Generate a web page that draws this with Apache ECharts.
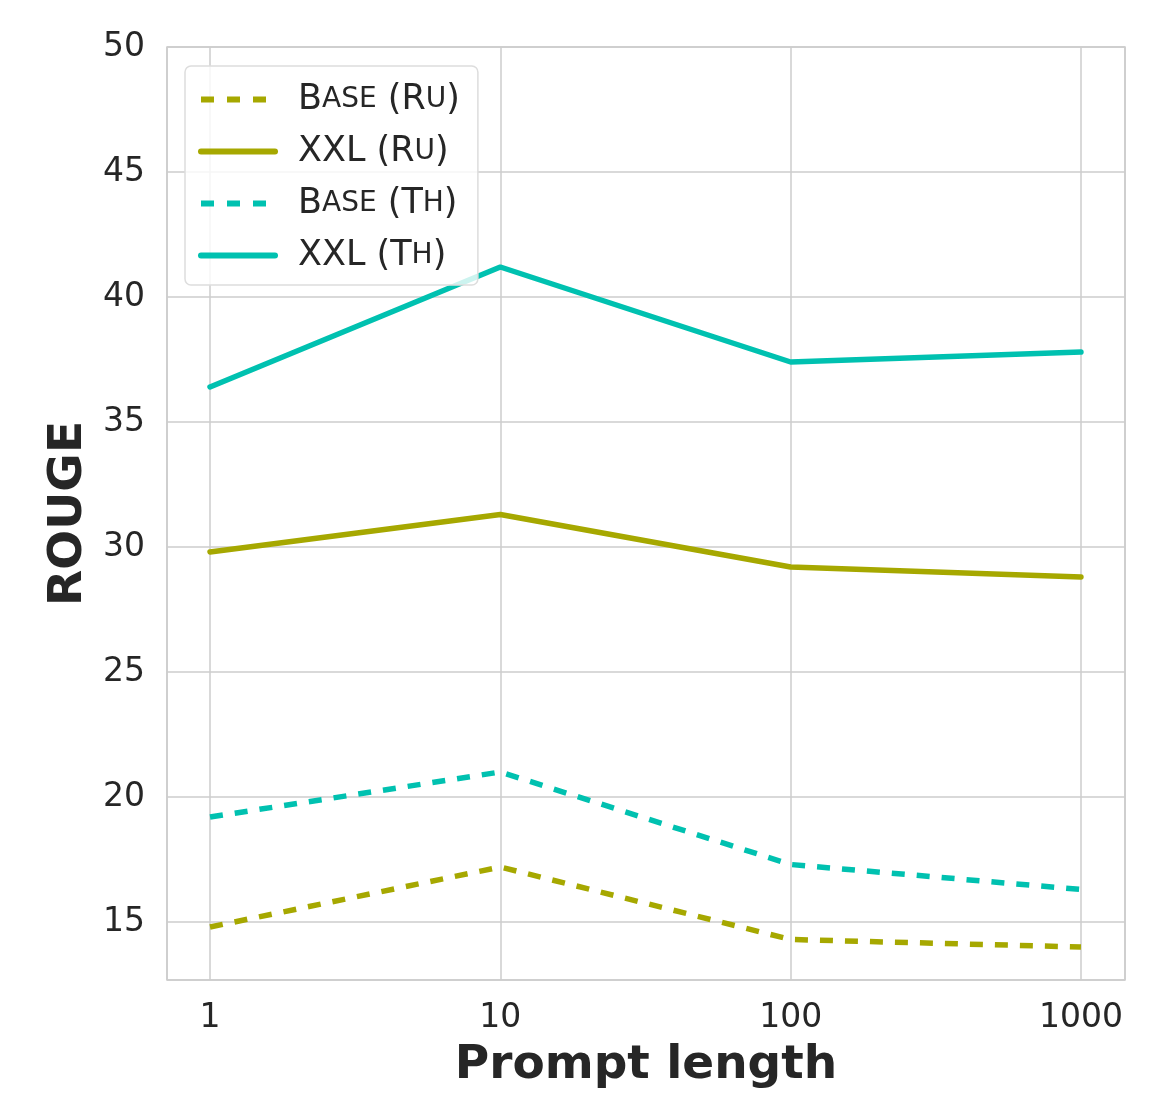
<!DOCTYPE html>
<html><head><meta charset="utf-8">
<script src="https://cdn.jsdelivr.net/npm/echarts@6/dist/echarts.min.js"></script>
<style>html,body{margin:0;padding:0;background:#fff}#c{width:1152px;height:1093px}</style>
</head><body><div id="c"></div>
<script>
const promptLengths = [1, 10, 100, 1000];
const xTickLabels = ['1', '10', '100', '1000'];
const baseRu = [14.8, 17.2, 14.3, 14.0];
const xxlRu = [29.8, 31.3, 29.2, 28.8];
const baseTh = [19.2, 21.0, 17.3, 16.3];
const xxlTh = [36.4, 41.2, 37.4, 37.8];
const seriesNames = ['Base (Ru)', 'XXL (Ru)', 'Base (Th)', 'XXL (Th)'];
const legendRich = {
  'Base (Ru)': '{n|B}{s|ASE}{n| (R}{s|U}{n|)}',
  'XXL (Ru)': '{n|XXL (R}{s|U}{n|)}',
  'Base (Th)': '{n|B}{s|ASE}{n| (T}{s|H}{n|)}',
  'XXL (Th)': '{n|XXL (T}{s|H}{n|)}'
};
const olive = '#a6a800';
const teal = '#00c1b0';
const F = 'DejaVu Sans';
function pairs(v){ return promptLengths.map((x,i)=>[x, v[i]]); }
const chart = echarts.init(document.getElementById('c'), null, {renderer:'canvas'});
const mk = (name, data, color, dashed) => ({
  name, type:'line', data: pairs(data), showSymbol:false, symbol:'none',
  lineStyle:{color, width:5.5, type: dashed ? [13,12] : 'solid', cap: dashed ? 'butt' : 'round'},
  itemStyle:{color}, animation:false
});
const legendItem = (name, color, dashed) => ({
  name,
  itemStyle:{opacity:0, borderWidth:0},
  lineStyle:{color, width:6, type: dashed ? [13,13] : 'solid', cap: dashed ? 'butt' : 'round'}
});
chart.setOption({
  backgroundColor:'#fff',
  animation:false,
  grid:{left:167, right:27, top:47, bottom:113, show:true, borderColor:'#cccccc', borderWidth:1.5, containLabel:false, outerBoundsMode:'none'},
  legend:{
    orient:'vertical', left:185, top:66, padding:[16,18,12,13], itemGap:17,
    itemWidth:74, itemHeight:14,
    backgroundColor:'rgba(255,255,255,0.8)', borderColor:'#dddddd', borderWidth:1.5, borderRadius:6,
    data: [
      legendItem(seriesNames[0], olive, true),
      legendItem(seriesNames[1], olive, false),
      legendItem(seriesNames[2], teal, true),
      legendItem(seriesNames[3], teal, false)
    ],
    formatter: n => legendRich[n],
    textStyle:{fontFamily:F, color:'#262626', fontSize:35, padding:[0,0,0,18],
      rich:{n:{fontFamily:F, fontSize:35, color:'#262626', lineHeight:34}, s:{fontFamily:F, fontSize:28, color:'#262626', lineHeight:34}}}
  },
  xAxis:{
    type:'log', logBase:10, min:0.711, max:1418,
    name:'Prompt length', nameLocation:'middle', nameGap:62,
    nameTextStyle:{fontFamily:F, fontSize:47, fontWeight:'bold', color:'#262626'},
    axisLine:{show:false}, axisTick:{show:false},
    axisLabel:{fontFamily:F, fontSize:33, color:'#262626', margin:22,
      formatter: v => { const i = promptLengths.findIndex(p => Math.abs(p - v) / p < 1e-6); return i >= 0 ? xTickLabels[i] : ''; }},
    splitLine:{show:true, lineStyle:{color:'#cccccc', width:1.5}},
    minorTick:{show:false}, minorSplitLine:{show:false}
  },
  yAxis:{
    type:'value', min:12.68, max:50, splitNumber:8,
    name:'ROUGE', nameLocation:'middle', nameGap:74,
    nameTextStyle:{fontFamily:F, fontSize:47, fontWeight:'bold', color:'#262626'},
    axisLine:{show:false}, axisTick:{show:false},
    axisLabel:{fontFamily:F, fontSize:33, color:'#262626', margin:22, showMinLabel:false,
      formatter: v => (Math.abs(v % 5) < 1e-6 ? String(v) : '')},
    splitLine:{show:true, lineStyle:{color:'#cccccc', width:1.5}}
  },
  series:[
    mk(seriesNames[0], baseRu, olive, true),
    mk(seriesNames[1], xxlRu, olive, false),
    mk(seriesNames[2], baseTh, teal, true),
    mk(seriesNames[3], xxlTh, teal, false)
  ]
});
</script></body></html>
